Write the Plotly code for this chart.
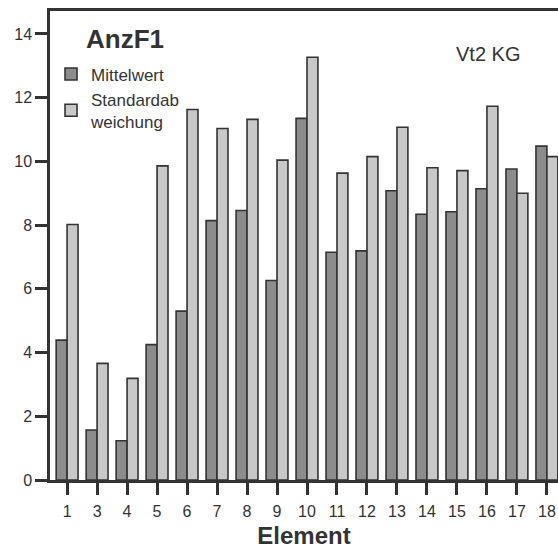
import plotly.graph_objects as go

categories = ["1", "3", "4", "5", "6", "7", "8", "9", "10", "11", "12", "13", "14", "15", "16", "17", "18"]
mittelwert = [4.39, 1.57, 1.23, 4.25, 5.30, 8.14, 8.46, 6.26, 11.35, 7.15, 7.19, 9.08, 8.34, 8.42, 9.14, 9.76, 10.48]
standardabweichung = [8.02, 3.66, 3.19, 9.86, 11.63, 11.03, 11.32, 10.04, 13.27, 9.63, 10.15, 11.07, 9.80, 9.71, 11.73, 9.00, 10.15]
y_ticks = [0, 2, 4, 6, 8, 10, 12, 14]

FONT = "Arial, 'Liberation Sans', sans-serif"
INK = "#333333"

fig = go.Figure()
fig.add_trace(go.Bar(
    x=categories, y=mittelwert, name="Mittelwert",
    marker=dict(color="#8c8c8c", line=dict(color=INK, width=1.6)),
))
fig.add_trace(go.Bar(
    x=categories, y=standardabweichung, name="Standardab<br>weichung",
    marker=dict(color="#c8c8c8", line=dict(color=INK, width=1.6)),
))

fig.update_layout(
    width=558, height=551,
    margin=dict(l=50, r=0, t=11, b=71),
    paper_bgcolor="white", plot_bgcolor="white",
    barmode="group", bargap=0.27, bargroupgap=0,
    font=dict(family=FONT, size=16, color=INK),
    showlegend=True,
    legend=dict(
        x=0.002, y=0.903, xanchor="left", yanchor="top",
        bgcolor="rgba(0,0,0,0)",
        font=dict(size=17, color=INK),
        tracegroupgap=8,
        itemwidth=30,
    ),
    xaxis=dict(
        type="category",
        range=[-0.57, 16.37],
        showline=True, linecolor=INK, linewidth=2.5, mirror=True,
        ticks="outside", ticklen=12, tickwidth=2.5, tickcolor=INK,
        ticklabelstandoff=3,
        showgrid=False, zeroline=False,
        tickfont=dict(size=16, color=INK),
        title=dict(text="<b>Element</b>", font=dict(size=24, color=INK), standoff=9),
    ),
    yaxis=dict(
        range=[0, 14.72],
        tickvals=y_ticks,
        showline=True, linecolor=INK, linewidth=2.5, mirror=False,
        ticks="outside", ticklen=12, tickwidth=2.5, tickcolor=INK,
        showgrid=False, zeroline=False,
        tickfont=dict(size=16, color=INK),
    ),
)

fig.add_annotation(
    x=(125 - 50) / 508, y=(480 - 39) / 469, xref="paper", yref="paper",
    text="<b>AnzF1</b>", showarrow=False,
    font=dict(size=26, color=INK), xanchor="center", yanchor="middle",
)
fig.add_annotation(
    x=(488 - 50) / 508, y=(480 - 54) / 469, xref="paper", yref="paper",
    text="Vt2 KG", showarrow=False,
    font=dict(size=20, color=INK), xanchor="center", yanchor="middle",
)

fig.write_html("out.html")
